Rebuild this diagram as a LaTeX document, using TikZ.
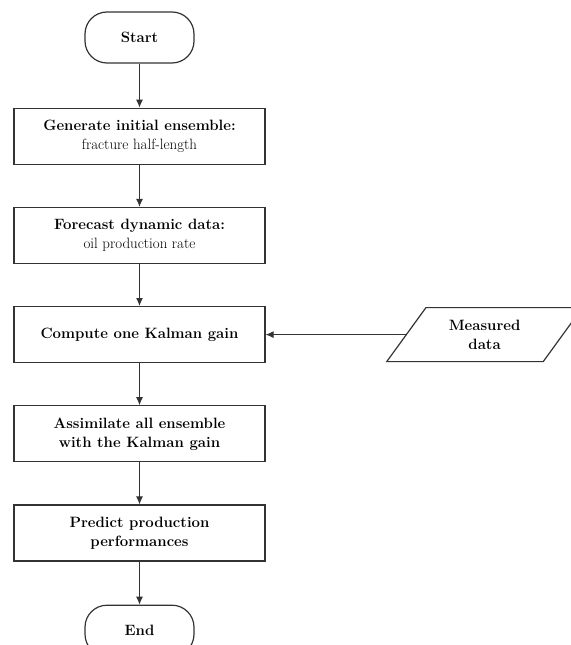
\documentclass[tikz,border=0pt]{standalone}
\usepackage{fontspec}
\usepackage{tikz}
\usetikzlibrary{positioning,shapes.geometric,arrows.meta}

\begin{document}
\begin{tikzpicture}[x=1bp,y=1bp,
  node distance=42bp,
  box/.style={draw=black!80,line width=1.2bp,minimum width=251bp,minimum height=56bp,
    align=center,font=\fontsize{15}{19}\selectfont},
  term/.style={draw=black!80,line width=1.2bp,rounded corners=22bp,minimum width=109bp,
    minimum height=51bp,font=\fontsize{15}{19}\selectfont\bfseries},
  io/.style={draw=black!80,line width=1.2bp,trapezium,trapezium left angle=54,
    trapezium right angle=126,trapezium stretches=true,minimum width=196bp,
    minimum height=54bp,align=center,font=\fontsize{15}{19}\selectfont\bfseries},
  flow/.style={-{Latex[length=8bp,width=7bp]},black!80,line width=1bp}]
\useasboundingbox (0,0) rectangle (571,-645);

% Start and process boxes
\node[term] (start) at (139.5,-37.5) {Start};
\node[box,below=44bp of start] (init) {\textbf{Generate initial ensemble:}\\fracture half-length};
\node[box,below=of init] (forecast) {\textbf{Forecast dynamic data:}\\oil\ production rate};
\node[box,below=of forecast] (gain) {\textbf{Compute one Kalman gain}};
\node[box,below=of gain] (assim) {\textbf{Assimilate all ensemble}\\\textbf{with the Kalman gain}};
\node[box,below=of assim] (predict) {\textbf{Predict production}\\\textbf{performances}};
\node[term,below=43bp of predict] (end) {End};

% Measured data
\node[io,right=140bp of gain] (meas) {Measured\\data};

% Arrows
\foreach \a/\b in {start/init,init/forecast,forecast/gain,gain/assim,assim/predict,predict/end}
  \draw[flow] (\a) -- (\b);
\draw[flow] (meas.west) -- (gain.east);
\end{tikzpicture}
\end{document}
